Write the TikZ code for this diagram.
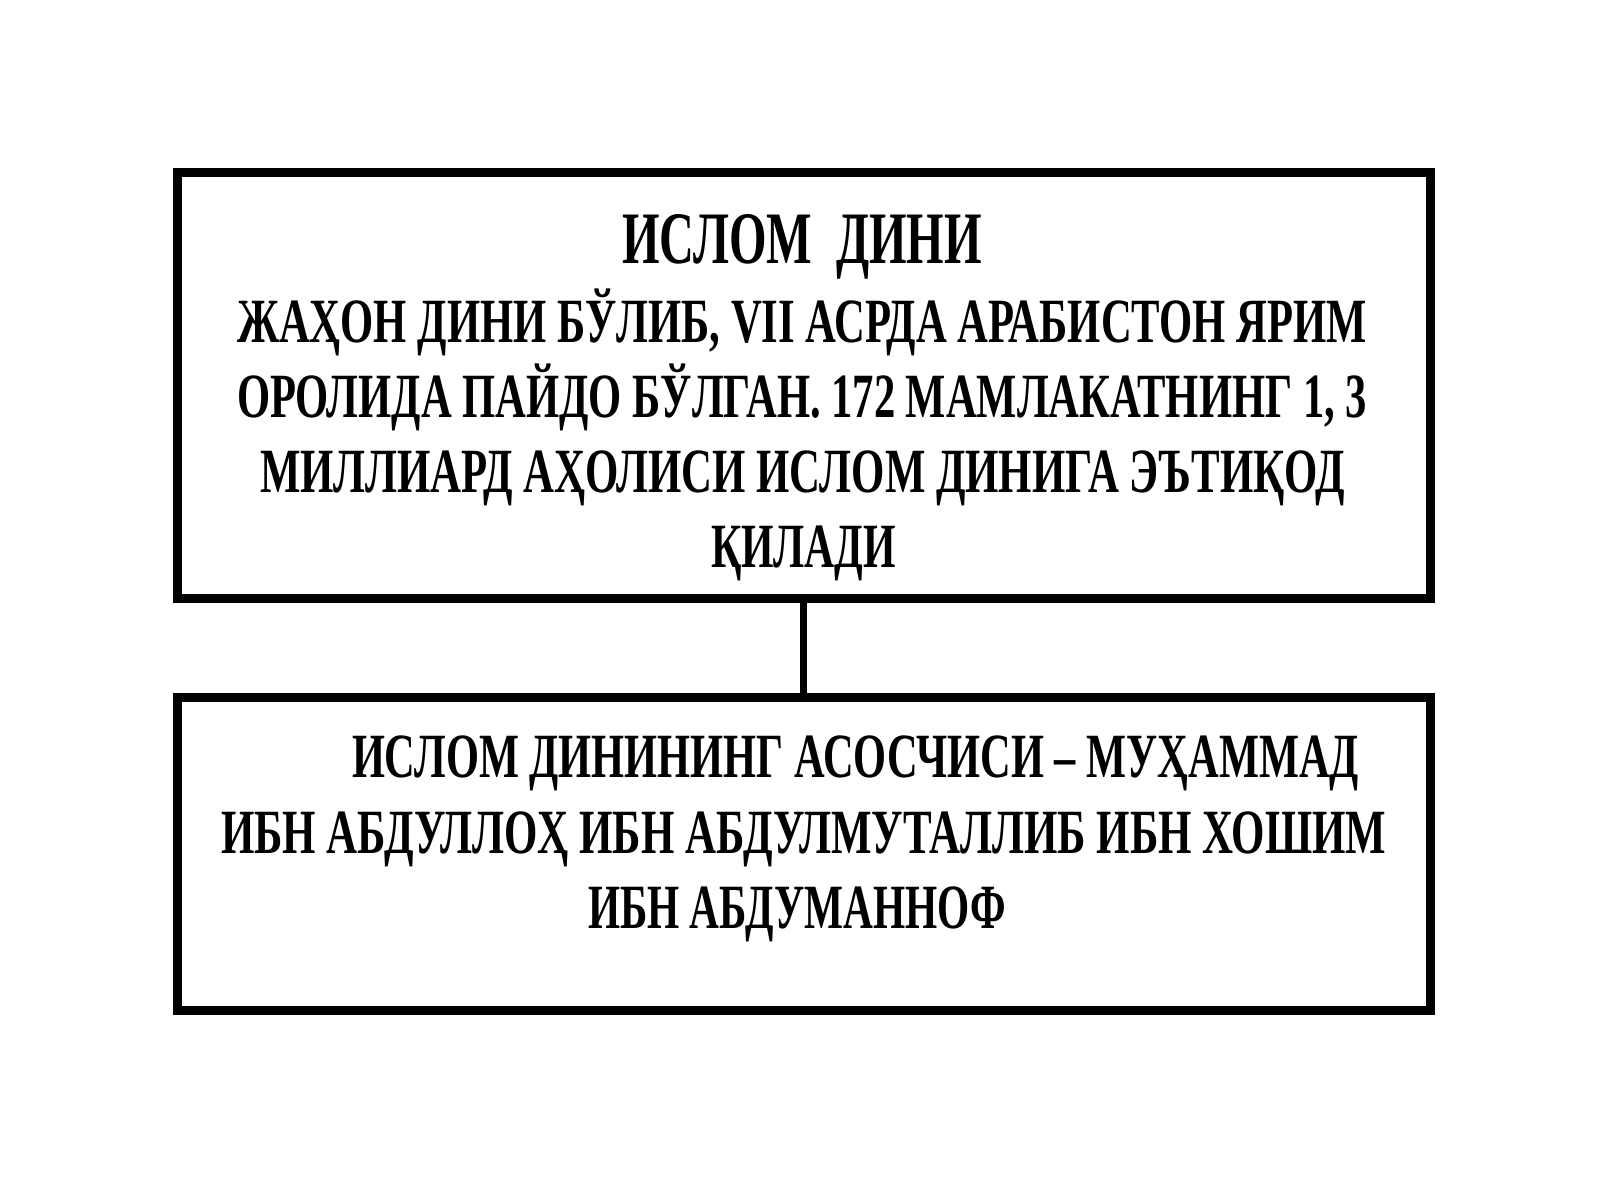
\documentclass[tikz,border=0pt]{standalone}
\usepackage{fontspec}
\setmainfont{Liberation Serif}
\usepackage{graphicx}
\tikzset{
  box/.style={draw=black, line width=9pt, rectangle, inner sep=0pt, fill=none},
  conn/.style={draw=black, line width=7.5pt},
  ttl/.style={anchor=base west, inner sep=0pt, outer sep=0pt, text=black, font=\bfseries\fontsize{74}{74}\selectfont},
  bd/.style={anchor=base west, inner sep=0pt, outer sep=0pt, text=black, font=\bfseries\fontsize{63}{63}\selectfont},
}
\newcommand{\fitw}[2]{\resizebox{#1pt}{\height}{#2}}
\begin{document}
\begin{tikzpicture}[x=1pt,y=-1pt]
\useasboundingbox[fill=white] (0,0) rectangle (1600,1200);
\node[box, minimum width=1253pt, minimum height=426pt] (b1) at (803.5,385) {};
\node[box, minimum width=1253pt, minimum height=313pt] (b2) at (803.5,853.5) {};
\draw[conn] (b1.south) -- (b2.north);
% box 1 text
\node[ttl] (t0) at (622,263) {\fitw{360}{ИСЛОМ\ \ ДИНИ}};
\node[bd] (t1) at (237,342) {\fitw{1130}{ЖАҲОН ДИНИ БЎЛИБ, VII АСРДА АРАБИСТОН ЯРИМ}};
\node[bd] (t2) at (237,417) {\fitw{1130}{ОРОЛИДА ПАЙДО БЎЛГАН. 172 МАМЛАКАТНИНГ 1, 3}};
\node[bd] (t3) at (260,492) {\fitw{1085}{МИЛЛИАРД АҲОЛИСИ ИСЛОМ ДИНИГА ЭЪТИҚОД}};
\node[bd] (t4) at (711,567) {\fitw{185}{ҚИЛАДИ}};
% box 2 text
\node[bd] (s1) at (352,777) {\fitw{1007}{ИСЛОМ ДИНИНИНГ АСОСЧИСИ – МУҲАММАД}};
\node[bd] (s2) at (221,853) {\fitw{1165}{ИБН АБДУЛЛОҲ ИБН АБДУЛМУТАЛЛИБ ИБН ХОШИМ}};
\node[bd] (s3) at (588,928) {\fitw{418}{ИБН АБДУМАННОФ}};
\end{tikzpicture}
\end{document}
